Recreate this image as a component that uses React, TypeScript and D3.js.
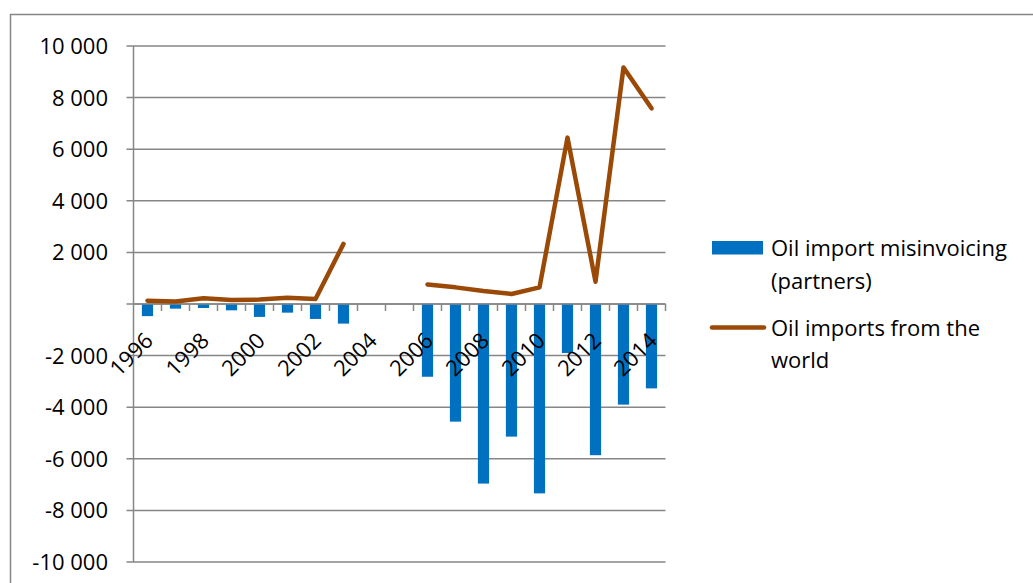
import React from "react";
import * as d3 from "d3";

// years on the category axis
const years = [
  "1996", "1997", "1998", "1999", "2000", "2001", "2002", "2003", "2004", "2005",
  "2006", "2007", "2008", "2009", "2010", "2011", "2012", "2013", "2014",
];

// Oil import misinvoicing (partners)
const misinvoicing: (number | null)[] = [
  -470, -180, -155, -245, -500, -335, -580, -760, null, null,
  -2820, -4560, -6960, -5140, -7340, -1900, -5860, -3900, -3270,
];

// Oil imports from the world
const imports: (number | null)[] = [
  130, 100, 220, 155, 170, 245, 195, 2330, null, null,
  760, 645, 500, 390, 645, 6450, 865, 9170, 7585,
];

const yTicks = [10000, 8000, 6000, 4000, 2000, 0, -2000, -4000, -6000, -8000, -10000];
const labelYears = ["1996", "1998", "2000", "2002", "2004", "2006", "2008", "2010", "2012", "2014"];

const W = 1033;
const H = 583;
const FONT = "'Open Sans', Lato, sans-serif";
const FS = 22;
const GRID = "#868686";
const BAR = "#0070C0";
const LINE = "#9A4A06";

const fmt = (v: number) => {
  if (v === 0) return "";
  const s = Math.abs(v).toLocaleString("en-US").replace(/,/g, " ");
  return (v < 0 ? "-" : "") + s;
};

export default function App() {
  const left = 133.5;
  const right = 665.5;
  const top = 46;
  const bottom = 562;

  const x = d3.scaleBand<string>().domain(years).range([left, right]).paddingInner(0).paddingOuter(0);
  const y = d3.scaleLinear().domain([-10000, 10000]).range([bottom, top]);
  const bw = x.bandwidth() / 2.5;
  const cx = (yr: string) => (x(yr) as number) + x.bandwidth() / 2;

  const line = d3
    .line<number | null>()
    .defined((d) => d !== null)
    .x((_, i) => cx(years[i]))
    .y((d) => y(d as number));

  const y0 = y(0);

  return (
    <svg
      width={W}
      height={H}
      style={{ position: "absolute", left: 0, top: 0, background: "#fff" }}
      fontFamily={FONT}
    >
      <rect x={10.5} y={14.5} width={1040} height={600} fill="#fff" stroke={GRID} strokeWidth={1.5} />

      {/* gridlines + y axis */}
      {yTicks.map((t) => (
        <g key={t}>
          <line x1={left - 7} x2={right} y1={y(t)} y2={y(t)} stroke={GRID} strokeWidth={1.5} />
          <text x={108} y={y(t)} dy="0.36em" textAnchor="end" fontSize={FS} fill="#000">
            {fmt(t)}
          </text>
        </g>
      ))}
      <line x1={left} x2={left} y1={top} y2={bottom} stroke={GRID} strokeWidth={1.5} />

      {/* bars */}
      {years.map((yr, i) => {
        const v = misinvoicing[i];
        if (v === null) return null;
        return (
          <rect
            key={yr}
            x={cx(yr) - bw / 2}
            y={Math.min(y(v), y0)}
            width={bw}
            height={Math.abs(y(v) - y0)}
            fill={BAR}
          />
        );
      })}

      {/* category axis at zero */}
      {years.map((yr) => (
        <line key={yr} x1={(x(yr) as number) + x.bandwidth()} x2={(x(yr) as number) + x.bandwidth()} y1={y0} y2={y0 + 7} stroke={GRID} strokeWidth={1.5} />
      ))}
      <line x1={left} x2={right} y1={y0} y2={y0} stroke={GRID} strokeWidth={1.5} />

      {/* line series */}
      <path d={line(imports) || ""} fill="none" stroke={LINE} strokeWidth={4.5} strokeLinejoin="round" strokeLinecap="round" />

      {/* x labels */}
      {labelYears.map((yr) => (
        <text
          key={yr}
          transform={`translate(${cx(yr) + 7},${y0 + 38}) rotate(-45)`}
          textAnchor="end"
          fontSize={FS}
          fill="#000"
        >
          {yr}
        </text>
      ))}

      {/* legend */}
      <rect x={712} y={241} width={51} height={13.5} fill={BAR} />
      <text x={771} y={256} fontSize={FS} fill="#000">Oil import misinvoicing</text>
      <text x={771} y={289} fontSize={FS} fill="#000">(partners)</text>
      <line x1={712} x2={764} y1={327.5} y2={327.5} stroke={LINE} strokeWidth={4.5} strokeLinecap="round" />
      <text x={771} y={336} fontSize={FS} fill="#000">Oil imports from the</text>
      <text x={771} y={368} fontSize={FS} fill="#000">world</text>
    </svg>
  );
}
